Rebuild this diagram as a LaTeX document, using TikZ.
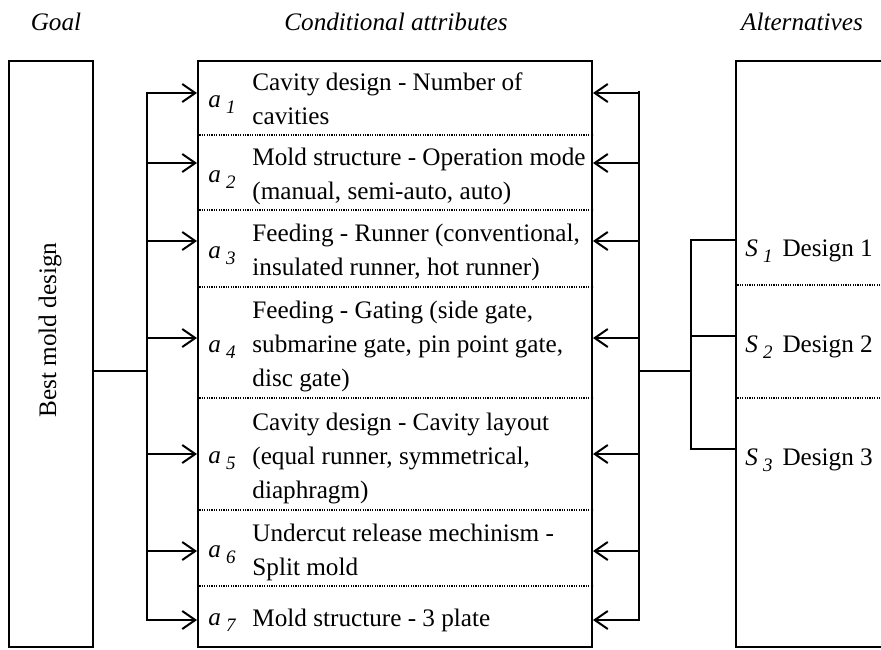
\documentclass[tikz,border=0pt]{standalone}
\usepackage{fontspec}
\setmainfont{Liberation Serif}
\usetikzlibrary{arrows.meta}

% italic symbol with a lowered italic index, e.g. a 1, S 2
\newcommand{\symidx}[2]{\textit{#1}\kern2.5pt\raisebox{-3pt}{\fontsize{9.5}{9.5}\selectfont\textit{#2}}}

\tikzset{
	BoxStyle/.style   = {draw, line width=1pt, inner sep=0pt, anchor=north west},
	WireStyle/.style  = {line width=1pt, line cap=rect},
	ArrowStyle/.style = {line width=1pt, -{Straight Barb[length=6.5pt,width=9pt]}},
	DotStyle/.style   = {line width=0.6pt, dash pattern=on 0.6pt off 0.6pt},
	TextStyle/.style  = {anchor=north west, inner sep=0pt, align=left, font=\fontsize{12.6}{17}\selectfont},
	LabelStyle/.style = {anchor=base west, inner sep=0pt, font=\fontsize{12.6}{17}\selectfont},
	HeadStyle/.style  = {anchor=base, inner sep=0pt, font=\fontsize{12.6}{15}\selectfont\itshape}
}

\begin{document}
\begin{tikzpicture}[x=0.5pt,y=-0.5pt]
		\useasboundingbox (0,0) rectangle (881,649);
		\clip (0,0) rectangle (881,649);
		% column titles
		\node[HeadStyle] (hgoal) at (56,30) {Goal};
		\node[HeadStyle] (hattr) at (396,30) {Conditional attributes};
		\node[HeadStyle] (halt) at (802,30) {Alternatives};
		% the three columns
		\node[BoxStyle,minimum width=42pt,minimum height=293pt] (goal) at (8,60) {};
		\node[BoxStyle,minimum width=197pt,minimum height=293pt] (cond) at (197,60) {};
		\node[BoxStyle,minimum width=120pt,minimum height=293pt] (alt) at (735,60) {};
		\node[rotate=90,inner sep=0pt,font=\fontsize{12.6}{15}\selectfont] (goaltxt) at (50,330) {Best mold design};
		% rows of the attribute column
		\foreach \y in {135,210,287,398,510,586}
			\draw[DotStyle] (cond.west |- 0,\y) -- (cond.east |- 0,\y);
		\foreach \i/\y in {1/97.5,2/172.5,3/248.5,4/342.5,5/454,6/548,7/616}
			\node[LabelStyle] (a\i) at (208,\y+9.5) {\symidx{a}{\i}};
		\node[TextStyle] (t1) at (252,72.8) {Cavity design - Number of\\cavities};
		\node[TextStyle] (t2) at (252,147.8) {Mold structure - Operation mode\\(manual, semi-auto, auto)};
		\node[TextStyle] (t3) at (252,223.8) {Feeding - Runner (conventional,\\insulated runner, hot runner)};
		\node[TextStyle] (t4) at (252,300.8) {Feeding - Gating (side gate,\\submarine gate, pin point gate,\\disc gate)};
		\node[TextStyle] (t5) at (252,412.3) {Cavity design - Cavity layout\\(equal runner, symmetrical,\\diaphragm)};
		\node[TextStyle] (t6) at (252,523.3) {Undercut release mechinism -\\Split mold};
		\node[TextStyle] (t7) at (252,608.3) {Mold structure - 3 plate};
		% rows of the alternatives column
		\foreach \y in {285,398}
			\draw[DotStyle] (alt.west |- 0,\y) -- (881,\y);
		\foreach \i/\y in {1/240,2/336,3/449}
			\node[LabelStyle] (s\i) at (745,\y+16) {\symidx{S}{\i}\hspace{5pt}Design \i};
		% goal to attributes
		\coordinate (lbus) at (147,371);
		\draw[WireStyle] (goal.east |- lbus) -- (lbus);
		\draw[WireStyle] (lbus |- 0,93) -- (lbus |- 0,620);
		% alternatives to attributes
		\coordinate (rbus) at (639,371);
		\coordinate (sbus) at (691,371);
		\draw[WireStyle] (rbus |- 0,92) -- (rbus |- 0,620);
		\draw[WireStyle] (rbus) -- (sbus);
		\draw[WireStyle] (sbus |- 0,240) -- (sbus |- 0,449);
		\foreach \y in {240,336,449}
			\draw[WireStyle] (sbus |- 0,\y) -- (alt.west |- 0,\y);
		\foreach \y in {93,163,241,338,454,551,620}{
			\draw[ArrowStyle] (lbus |- 0,\y) -- (cond.west |- 0,\y);
			\draw[ArrowStyle] (rbus |- 0,\y) -- (cond.east |- 0,\y);
		}
	\end{tikzpicture}
\end{document}
